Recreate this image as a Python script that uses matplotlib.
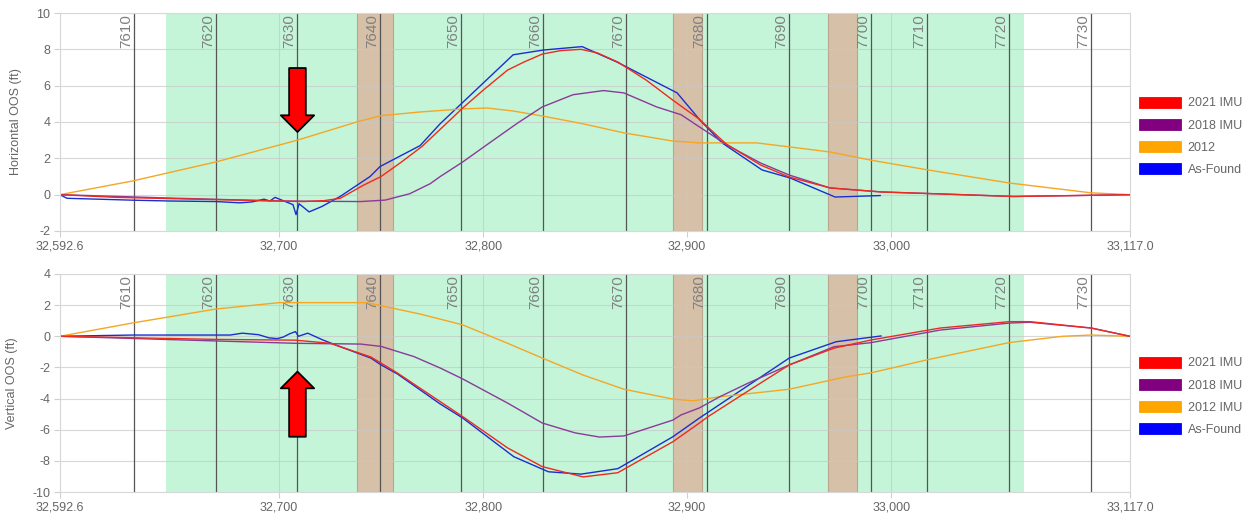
import matplotlib
matplotlib.use("Agg")
import matplotlib.pyplot as plt
from matplotlib.patches import Patch

plt.rcParams['font.family'] = ['Liberation Sans', 'DejaVu Sans']
plt.rcParams['axes.unicode_minus'] = False

# ---- data ----
x_min, x_max = 32592.6, 33117.0
xtick_vals = [32592.6, 32700, 32800, 32900, 33000, 33117.0]
xtick_labels = ['32,592.6', '32,700', '32,800', '32,900', '33,000', '33,117.0']

stations = [7610, 7620, 7630, 7640, 7650, 7660, 7670, 7680, 7690, 7700, 7710, 7720, 7730]
station_x = [32628.9, 32669.1, 32708.8, 32749.5, 32789.2, 32829.4, 32870.1,
             32909.8, 32949.9, 32990.1, 33017.6, 33057.8, 33098.0]

green_zone = (32644.6, 33065.2)
tan_zones = [(32738.2, 32755.8), (32893.1, 32907.3), (32969.1, 32983.3)]

# horizontal
h21_x = [32592.6, 32620, 32660, 32700, 32712, 32722, 32730, 32741, 32750, 32760, 32770,
         32779, 32790, 32800, 32812, 32820, 32829, 32838, 32848, 32856, 32866, 32880,
         32893, 32906, 32919, 32936, 32950, 32970, 32995, 33024, 33060, 33090, 33117]
h21_y = [0, -0.15, -0.25, -0.35, -0.38, -0.33, -0.2, 0.5, 1.0, 1.8, 2.65,
         3.6, 4.77, 5.75, 6.86, 7.3, 7.74, 7.93, 8.0, 7.8, 7.3, 6.3,
         5.2, 4.15, 2.8, 1.63, 0.97, 0.37, 0.15, 0.04, -0.1, -0.05, 0]

h18_x = [32592.6, 32650, 32700, 32740, 32752, 32764, 32774, 32779, 32790, 32803, 32817,
         32829, 32844, 32859, 32869, 32885, 32897, 32906, 32920, 32936, 32950, 32970,
         32995, 33024, 33060, 33090, 33117]
h18_y = [0, -0.2, -0.35, -0.38, -0.3, 0.05, 0.6, 1.0, 1.8, 2.84, 3.95,
         4.83, 5.5, 5.73, 5.6, 4.83, 4.4, 3.73, 2.7, 1.74, 1.08, 0.37,
         0.15, 0.04, -0.1, -0.05, 0]

h12_x = [32592.6, 32628, 32669, 32709, 32738, 32750, 32769, 32790, 32802, 32815, 32829,
         32849, 32869, 32893, 32906, 32934, 32950, 32970, 32990, 33018, 33058, 33098, 33117]
h12_y = [0, 0.75, 1.8, 3.0, 4.0, 4.35, 4.55, 4.72, 4.77, 4.6, 4.33,
         3.9, 3.4, 2.95, 2.85, 2.85, 2.63, 2.35, 1.9, 1.36, 0.64, 0.1, 0]

haf_x = [32592.6, 32596.0, 32626.9, 32646.5, 32669.1, 32680.8, 32686.7, 32692.6, 32695.5,
         32698.0, 32706.8, 32708.3, 32709.8, 32714.7, 32721.0, 32729.9, 32744.6, 32749.5,
         32769.1, 32778.9, 32814.7, 32829.4, 32848.5, 32865.6, 32895.1, 32906.3, 32917.1,
         32936.7, 32950.4, 32972.5, 32994.6]
haf_y = [0, -0.2, -0.3, -0.35, -0.38, -0.45, -0.4, -0.25, -0.35,
         -0.15, -0.55, -1.1, -0.5, -0.95, -0.65, -0.1, 1.0, 1.55,
         2.7, 3.9, 7.7, 7.96, 8.15, 7.3, 5.6, 4.1, 2.85,
         1.36, 0.92, -0.13, -0.05]

# vertical
v21_x = [32592.6, 32669, 32708, 32725, 32745, 32758, 32779, 32790, 32812, 32829, 32849,
         32866, 32893, 32906, 32910, 32930, 32950, 32972, 32990, 33024, 33058, 33068,
         33098, 33117]
v21_y = [0, -0.2, -0.25, -0.45, -1.33, -2.36, -4.2, -5.16, -7.17, -8.37, -9.03,
         -8.76, -6.77, -5.57, -5.18, -3.5, -1.84, -0.76, -0.24, 0.53, 0.94, 0.94,
         0.53, 0]

v18_x = [32592.6, 32669, 32708, 32740, 32750, 32766, 32779, 32790, 32812, 32829, 32845,
         32857, 32869, 32893, 32897, 32906, 32916, 32930, 32950, 32972, 32990, 33024,
         33058, 33068, 33098, 33117]
v18_y = [0, -0.3, -0.45, -0.5, -0.65, -1.3, -2.04, -2.74, -4.29, -5.57, -6.2,
         -6.47, -6.4, -5.38, -5.05, -4.6, -3.88, -3.0, -1.84, -0.67, -0.41, 0.4,
         0.85, 0.9, 0.53, 0]

v12_x = [32592.6, 32628, 32669, 32700, 32743, 32769, 32779, 32790, 32812, 32829, 32849,
         32869, 32893, 32903, 32915, 32950, 32978, 32990, 33018, 33058, 33084, 33098, 33117]
v12_y = [0, 0.85, 1.75, 2.16, 2.16, 1.43, 1.1, 0.73, -0.45, -1.4, -2.49,
         -3.4, -4.03, -4.14, -3.9, -3.4, -2.6, -2.35, -1.5, -0.4, 0, 0.08, 0]

vaf_x = [32592.6, 32628, 32669, 32676, 32682, 32690, 32695, 32699, 32702, 32705, 32708,
         32709.5, 32714, 32721.5, 32730, 32745, 32750, 32758, 32779, 32790, 32815, 32832,
         32848, 32866, 32893, 32906, 32950, 32973, 32995]
vaf_y = [0, 0.08, 0.08, 0.08, 0.2, 0.1, -0.1, -0.15, -0.05, 0.15, 0.3,
         0, 0.2, -0.24, -0.67, -1.4, -1.84, -2.42, -4.35, -5.25, -7.73, -8.7,
         -8.85, -8.5, -6.45, -5.25, -1.4, -0.35, 0.02]

arrow_x = 32709.0
arrow_top = ((arrow_x, 6.97), (arrow_x, 3.45))      # tail, tip
arrow_bottom = ((arrow_x, -6.45), (arrow_x, -2.27))

C21, C18, C12, CAF = '#ff0000', '#800080', '#ffa500', '#0000ff'
TXT = '#666666'


def decorate(ax, ylim, ylabel):
    ax.set_xlim(x_min, x_max)
    ax.set_ylim(*ylim)
    ax.axvspan(*green_zone, color='#c4f5d8', lw=0, zorder=0.5)
    for a, b in tan_zones:
        ax.axvspan(a, b, facecolor='#d6c0a8', edgecolor='#bba58e', lw=0.8, zorder=0.6)
    for s, xs in zip(stations, station_x):
        ax.axvline(xs, color='#555555', lw=0.9, zorder=1.6)
        ax.text(xs - 0.6, ylim[1] - 0.005 * (ylim[1] - ylim[0]), str(s), rotation=90,
                ha='right', va='top', fontsize=11, color='#808080', zorder=1.7)
    ax.set_xticks(xtick_vals)
    ax.set_xticklabels(xtick_labels)
    ax.set_yticks(range(ylim[0], ylim[1] + 1, 2))
    ax.grid(True, color='#c8c8c8', lw=0.8, alpha=0.7)
    ax.tick_params(colors='#d0d0d0', labelcolor=TXT, labelsize=9, length=4, pad=3)
    for sp in ax.spines.values():
        sp.set_color('#d8d8d8')
        sp.set_linewidth(0.8)
    ax.set_ylabel(ylabel, color=TXT, fontsize=9, labelpad=10)


def draw_arrow(ax, tail, tip):
    ax.annotate('', xy=tip, xytext=tail, zorder=10,
                arrowprops=dict(arrowstyle='simple,head_length=0.5,head_width=1.0,tail_width=0.5',
                                mutation_scale=24, fc='red', ec='black', lw=1.3,
                                shrinkA=0, shrinkB=0))


fig = plt.figure(figsize=(12.52, 5.2), dpi=100)
ax1 = fig.add_axes([0.0479, 0.5558, 0.8546, 0.4192])
ax2 = fig.add_axes([0.0479, 0.0538, 0.8546, 0.4193])

decorate(ax1, (-2, 10), 'Horizontal OOS (ft)')
ax1.plot(haf_x, haf_y, color='#1a2fd0', lw=1.0, zorder=2)
ax1.plot(h12_x, h12_y, color='#f5a623', lw=1.0, zorder=2.1)
ax1.plot(h18_x, h18_y, color='#8a3a9a', lw=1.0, zorder=2.2)
ax1.plot(h21_x, h21_y, color='#ee2a20', lw=1.0, zorder=2.3)
draw_arrow(ax1, *arrow_top)

decorate(ax2, (-10, 4), 'Vertical OOS (ft)')
ax2.plot(vaf_x, vaf_y, color='#1a2fd0', lw=1.0, zorder=2)
ax2.plot(v12_x, v12_y, color='#f5a623', lw=1.0, zorder=2.1)
ax2.plot(v18_x, v18_y, color='#8a3a9a', lw=1.0, zorder=2.2)
ax2.plot(v21_x, v21_y, color='#ee2a20', lw=1.0, zorder=2.3)
draw_arrow(ax2, *arrow_bottom)


def legend(labels, top):
    handles = [Patch(facecolor=c, edgecolor=c, lw=0.6) for c in (C21, C18, C12, CAF)]
    fig.legend(handles, labels, loc='upper left', bbox_to_anchor=(0.9097, top),
               frameon=False, fontsize=9, handlelength=3.4, handleheight=1.0,
               labelspacing=0.75, handletextpad=0.5, borderpad=0, borderaxespad=0,
               labelcolor=TXT)


legend(['2021 IMU', '2018 IMU', '2012', 'As-Found'], 0.8144)
legend(['2021 IMU', '2018 IMU', '2012 IMU', 'As-Found'], 0.3144)

fig.savefig('out.png', dpi=100)
